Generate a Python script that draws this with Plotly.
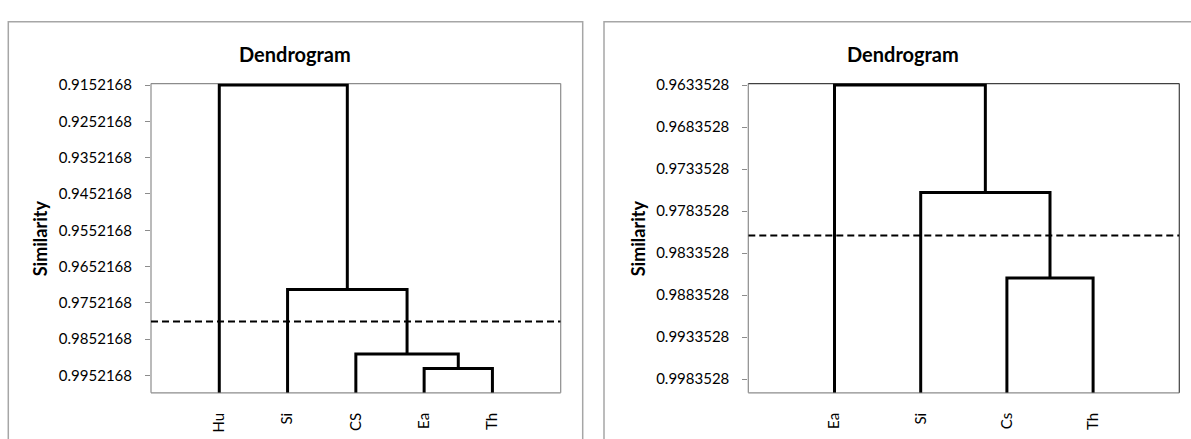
import plotly.graph_objects as go

# ---------------- data ----------------
left_leaves = ["Hu", "Si", "CS", "Ea", "Th"]
# linkage: node ids 0..n-1 are leaves, n.. are merged clusters (in order)
left_join_a = [3, 2, 1, 0]
left_join_b = [4, 5, 6, 7]
left_join_h = [0.99327, 0.98931, 0.97155, 0.9152168]
left_threshold = 0.98035
left_ytick_labels = ["0.9152168", "0.9252168", "0.9352168", "0.9452168", "0.9552168",
                     "0.9652168", "0.9752168", "0.9852168", "0.9952168"]

right_leaves = ["Ea", "Si", "Cs", "Th"]
right_join_a = [2, 1, 0]
right_join_b = [3, 4, 5]
right_join_h = [0.98631, 0.97615, 0.9633528]
right_threshold = 0.98127
right_ytick_labels = ["0.9633528", "0.9683528", "0.9733528", "0.9783528", "0.9833528",
                      "0.9883528", "0.9933528", "0.9983528"]

leaf_similarity = 1.0
title_text = "Dendrogram"
ytitle_text = "Similarity"

# ---------------- layout constants ----------------
W, H = 1191, 439
FONT = "Lato, 'Open Sans', sans-serif"
GRAY = "#8c8c8c"
BOX = "#a6a6a6"


def px(x):
    return x / W


def py(y):
    return 1 - y / H


def dendro_paths(leaves, ja, jb, jh):
    n = len(leaves)
    xs = {i: i + 1 for i in range(n)}
    hs = {i: leaf_similarity for i in range(n)}
    X, Y = [], []
    for k, (a, b, h) in enumerate(zip(ja, jb, jh)):
        X += [xs[a], xs[a], xs[b], xs[b], None]
        Y += [hs[a], h, h, hs[b], None]
        xs[n + k] = (xs[a] + xs[b]) / 2
        hs[n + k] = h
    return X, Y


fig = go.Figure()

panels = [
    dict(leaves=left_leaves, ja=left_join_a, jb=left_join_b, jh=left_join_h,
         thr=left_threshold, ticks=left_ytick_labels, xa="x", ya="y",
         dom=[px(151), px(560.7)], box=[px(8.3), px(582.7)],
         title_x=px(295), ytitle_x=px(40), topcolor=GRAY),
    dict(leaves=right_leaves, ja=right_join_a, jb=right_join_b, jh=right_join_h,
         thr=right_threshold, ticks=right_ytick_labels, xa="x2", ya="y2",
         dom=[px(748.3), px(1179.3)], box=[px(604), 1.02],
         title_x=px(903), ytitle_x=px(638), topcolor="#404040"),
]

ydom = [py(392), py(77)]
shapes = []
annotations = []

for i, p in enumerate(panels):
    n = len(p["leaves"])
    X, Y = dendro_paths(p["leaves"], p["ja"], p["jb"], p["jh"])
    fig.add_trace(go.Scatter(x=X, y=Y, mode="lines", xaxis=p["xa"], yaxis=p["ya"],
                             line=dict(color="black", width=3), hoverinfo="skip",
                             showlegend=False))
    fig.add_trace(go.Scatter(x=[0, n + 1], y=[p["thr"], p["thr"]], mode="lines",
                             xaxis=p["xa"], yaxis=p["ya"],
                             line=dict(color="black", width=2, dash="7px,4px"),
                             hoverinfo="skip", showlegend=False))
    tickvals = [float(t) for t in p["ticks"]]
    ymin = tickvals[0]
    pad = (leaf_similarity - ymin) * 1.5 / 315
    sfx = "" if i == 0 else "2"
    fig.update_layout({
        "xaxis" + sfx: dict(domain=p["dom"], range=[0, n + 1], anchor=p["ya"],
                            tickvals=list(range(1, n + 1)), ticktext=p["leaves"],
                            tickangle=-90, ticks="", showline=False, showgrid=False,
                            zeroline=False, ticklabelstandoff=16,
                            tickfont=dict(family=FONT, size=15, color="black")),
        "yaxis" + sfx: dict(domain=ydom, range=[leaf_similarity, ymin - pad], anchor=p["xa"],
                            tickvals=tickvals, ticktext=p["ticks"],
                            ticks="outside", ticklen=5, tickcolor=GRAY, tickwidth=1,
                            showline=False, showgrid=False, zeroline=False,
                            ticklabelstandoff=10,
                            tickfont=dict(family=FONT, size=15, color="black")),
    })
    x0, x1 = p["dom"]
    y0, y1 = ydom
    # outer chart box
    shapes.append(dict(type="rect", xref="paper", yref="paper", x0=p["box"][0], x1=p["box"][1],
                       y0=-0.05, y1=py(14), line=dict(color=BOX, width=1.5), layer="below"))
    # plot-area frame
    shapes.append(dict(type="line", xref="paper", yref="paper", x0=x0, x1=x0, y0=y0, y1=y1,
                       line=dict(color=GRAY, width=1.2), layer="below"))
    shapes.append(dict(type="line", xref="paper", yref="paper", x0=x0, x1=x1, y0=y0, y1=y0,
                       line=dict(color=GRAY, width=1.2), layer="below"))
    shapes.append(dict(type="line", xref="paper", yref="paper", x0=x0, x1=x1, y0=y1, y1=y1,
                       line=dict(color=p["topcolor"], width=1.2), layer="below"))
    shapes.append(dict(type="line", xref="paper", yref="paper", x0=x1, x1=x1, y0=y0, y1=y1,
                       line=dict(color=p["topcolor"], width=1.2), layer="below"))
    annotations.append(dict(text="<b>%s</b>" % title_text, x=p["title_x"], y=py(47),
                            xref="paper", yref="paper", xanchor="center", yanchor="middle",
                            showarrow=False, font=dict(family=FONT, size=20, color="black")))
    annotations.append(dict(text="<b>%s</b>" % ytitle_text, x=p["ytitle_x"], y=py(234.5),
                            xref="paper", yref="paper", xanchor="center", yanchor="middle",
                            textangle=-90, showarrow=False,
                            font=dict(family=FONT, size=18, color="black")))

fig.update_layout(width=W, height=H, autosize=False, margin=dict(l=0, r=0, t=0, b=0),
                  paper_bgcolor="white", plot_bgcolor="rgba(0,0,0,0)",
                  shapes=shapes, annotations=annotations, showlegend=False)

post = ("document.documentElement.style.margin='0';document.body.style.margin='0';"
        "document.body.style.padding='0';document.body.style.overflow='hidden';"
        "var d=document.getElementById('{plot_id}');d.style.position='fixed';"
        "d.style.left='0px';d.style.top='0px';")
fig.write_html("out.html", post_script=post,
               config={"displayModeBar": False, "responsive": False})
